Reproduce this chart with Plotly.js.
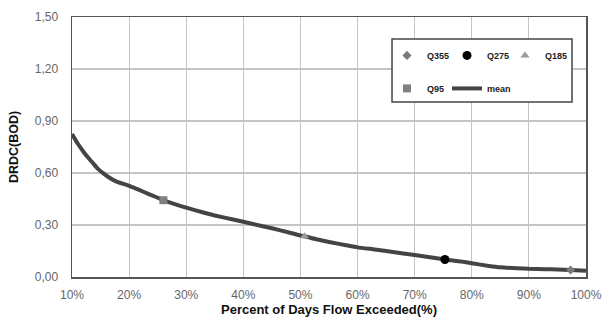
<!DOCTYPE html>
<html><head><meta charset="utf-8">
<script src="https://cdn.plot.ly/plotly-3.0.1.min.js"></script>
<style>body{margin:0;background:#fff}#c{width:602px;height:320px}</style>
</head><body><div id="c"></div>
<script>
var meanX = [10, 11, 12, 13, 13.7, 14.5, 15.5, 16.5, 17.8, 19, 19.9, 21, 22.5, 24, 25.4, 26, 28, 30, 33, 35, 38, 40, 43, 45, 48, 50, 50.7, 53, 55, 58, 60, 63, 65, 68, 70, 73, 75.3, 78, 80, 83, 85, 88, 90, 93, 95, 97.3, 100];
var meanY = [0.825, 0.77, 0.723, 0.682, 0.656, 0.625, 0.598, 0.574, 0.55, 0.537, 0.527, 0.513, 0.492, 0.471, 0.452, 0.443, 0.42, 0.40, 0.372, 0.355, 0.333, 0.319, 0.296, 0.281, 0.257, 0.239, 0.235, 0.216, 0.202, 0.183, 0.171, 0.159, 0.150, 0.136, 0.127, 0.113, 0.101, 0.090, 0.079, 0.064, 0.056, 0.050, 0.047, 0.045, 0.043, 0.040, 0.036];
var qNames = ['Q355', 'Q275', 'Q185', 'Q95'];
var qX = [97.3, 75.3, 50.7, 26.0];
var qY = [0.040, 0.101, 0.235, 0.443];
var xTicks = [10, 20, 30, 40, 50, 60, 70, 80, 90, 100];
var xTickText = ['10%', '20%', '30%', '40%', '50%', '60%', '70%', '80%', '90%', '100%'];
var yTicks = [0, 0.3, 0.6, 0.9, 1.2, 1.5];

var qSymbols = ['diamond', 'circle', 'triangle-up', 'square'];
var qColors = ['#7a7a7a', '#000000', '#9a9a9a', '#808080'];
var qSizes = [7, 9, 8, 8];
var qLegends = ['legend', 'legend2', 'legend3', 'legend'];

var traces = [{x: meanX, y: meanY, name: 'mean', type: 'scatter', mode: 'lines',
  legend: 'legend2', legendgroup: 'mean', legendrank: 5,
  line: {color: '#444444', width: 4, shape: 'spline', smoothing: 0.4}}];
for (var i = 0; i < qNames.length; i++) {
  traces.push({x: [qX[i]], y: [qY[i]], name: qNames[i], type: 'scatter', mode: 'markers',
    legend: qLegends[i], legendgroup: qNames[i], legendrank: i + 1,
    marker: {symbol: qSymbols[i], color: qColors[i], size: qSizes[i]}});
}

function legendAt(xp) {
  return {
    orientation: 'v', x: xp, y: 0.908, xanchor: 'left', yanchor: 'top',
    bgcolor: 'rgba(0,0,0,0)', borderwidth: 0,
    font: {family: 'Liberation Sans, Arial, sans-serif', size: 9, color: '#222', weight: 'bold'},
    traceorder: 'grouped', tracegroupgap: 14, itemwidth: 30
  };
}

var layout = {
  width: 602, height: 320,
  margin: {l: 72, r: 16, t: 17, b: 43},
  paper_bgcolor: '#fff', plot_bgcolor: '#fff',
  separators: ', ',
  font: {family: 'Liberation Sans, Arial, sans-serif', color: '#555'},
  showlegend: true,
  legend: legendAt(0.6128),
  legend2: legendAt(0.7296),
  legend3: legendAt(0.8424),
  shapes: [{type: 'rect', xref: 'paper', yref: 'paper', x0: 0.6226, x1: 0.9728, y0: 0.673, y1: 0.9154,
    line: {color: '#444', width: 1.5}, fillcolor: '#fff', layer: 'above'}],
  xaxis: {
    range: [10, 100], tickvals: xTicks, ticktext: xTickText,
    showgrid: true, gridcolor: '#c4c4c4', gridwidth: 1.2,
    showline: true, linecolor: '#555', linewidth: 1.5, mirror: true,
    zeroline: false, ticks: '', ticklabelstandoff: 6,
    tickfont: {size: 12, color: '#666'},
    title: {text: 'Percent of Days Flow Exceeded(%)', standoff: 4,
      font: {size: 13, color: '#111', weight: 'bold'}}
  },
  yaxis: {
    range: [0, 1.5], tickvals: yTicks, tickformat: '.2f',
    showgrid: true, gridcolor: '#c4c4c4', gridwidth: 1.2,
    showline: true, linecolor: '#555', linewidth: 1.5, mirror: true,
    zeroline: false, ticks: '', ticklabelstandoff: 10,
    tickfont: {size: 12, color: '#666'},
    title: {text: 'DRDC(BOD)', standoff: 13,
      font: {size: 12.5, color: '#111', weight: 'bold'}}
  }
};
Plotly.newPlot('c', traces, layout, {displayModeBar: false, staticPlot: true});
</script></body></html>
